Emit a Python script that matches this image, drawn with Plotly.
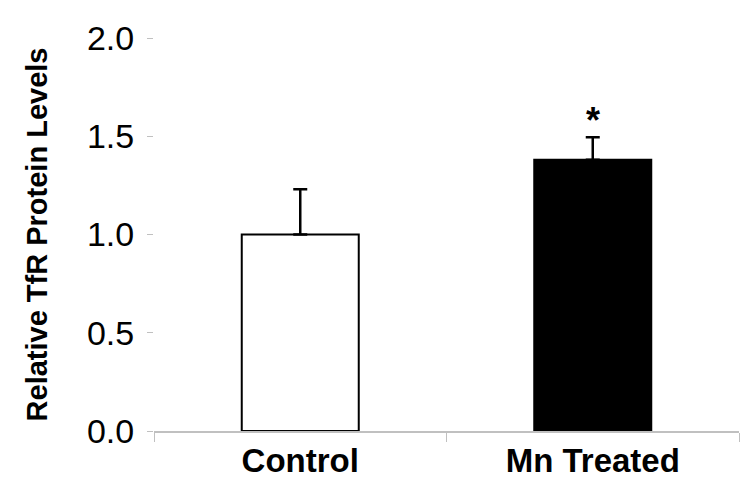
import plotly.graph_objects as go

categories = ["Control", "Mn Treated"]
values = [1.0, 1.38]
errors_up = [0.23, 0.115]
fill_colors = ["white", "black"]
significance = ["", "*"]
y_ticks = [0.0, 0.5, 1.0, 1.5, 2.0]
y_tick_labels = ["0.0", "0.5", "1.0", "1.5", "2.0"]

FONT = "Liberation Sans, Arial, sans-serif"

fig = go.Figure()
fig.add_trace(go.Bar(
    x=categories,
    y=values,
    marker=dict(color=fill_colors, line=dict(color="black", width=2)),
    error_y=dict(type="data", array=errors_up, arrayminus=[0, 0], symmetric=False,
                 color="black", thickness=2.5, width=7),
    width=0.4,
))

for c, v, e, s in zip(categories, values, errors_up, significance):
    if s:
        fig.add_annotation(x=c, y=v + e, text=s, showarrow=False, yanchor="middle",
                           yshift=17, font=dict(family=FONT, size=36, color="black",
                                                weight="bold"))

fig.update_layout(
    width=750, height=491,
    margin=dict(l=146, r=19, t=30, b=68),
    paper_bgcolor="white", plot_bgcolor="white",
    showlegend=False,
    bargap=0.6,
)
fig.update_xaxes(
    showline=True, linecolor="#c0c0c0", linewidth=1.5,
    ticks="outside", tickcolor="#c0c0c0", ticklen=9, tickson="boundaries",
    tickfont=dict(family=FONT, size=33, color="black", weight="bold"),
    showgrid=False, zeroline=False,
)
fig.update_yaxes(
    range=[0, 2.0], tickvals=y_ticks, ticktext=y_tick_labels,
    showline=False, showgrid=False, zeroline=False,
    ticks="outside", tickcolor="#c0c0c0", ticklen=6, tickwidth=1,
    ticklabelstandoff=6,
    tickfont=dict(family=FONT, size=34, color="black"),
    title=dict(text="Relative TfR Protein Levels", standoff=30,
               font=dict(family=FONT, size=29, color="black", weight="bold")),
)

fig.write_html("out.html")
